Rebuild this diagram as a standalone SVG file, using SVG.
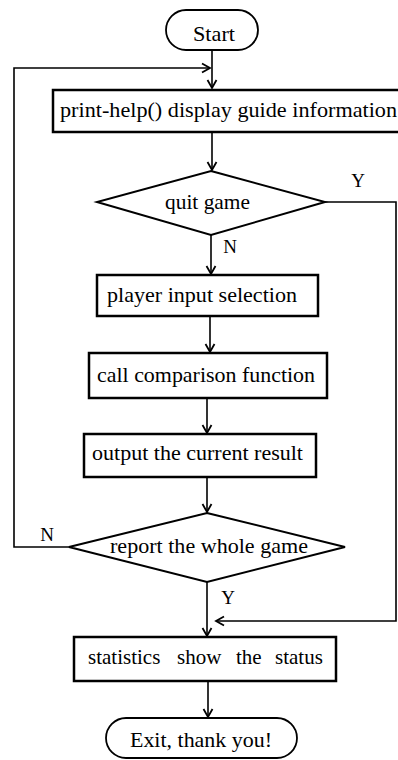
<svg xmlns="http://www.w3.org/2000/svg" width="398" height="760" viewBox="0 0 398 760">
<style>
.box{fill:#fff;stroke:#000;stroke-width:2.5}
.term{fill:#fff;stroke:#000;stroke-width:1.8}
.dia{fill:#fff;stroke:#000;stroke-width:2}
.ln{fill:none;stroke:#000;stroke-width:1.6}
.t{font-family:"Liberation Serif","Times New Roman",serif;font-size:21px;fill:#000;text-anchor:middle}
.lb{font-family:"Liberation Serif","Times New Roman",serif;font-size:19px;fill:#000;text-anchor:middle}
</style>
<defs>
<marker id="ah" markerWidth="12" markerHeight="12" refX="10" refY="6" orient="auto" markerUnits="userSpaceOnUse">
<path d="M2,1.5 L10,6 L2,10.5" fill="none" stroke="#000" stroke-width="1.8"/>
</marker>
</defs>
<g id="connectors">
<line class="ln" x1="212" y1="50" x2="212" y2="88" marker-end="url(#ah)"/>
<polyline class="ln" points="69,547 14,547 14,68 210,68" marker-end="url(#ah)"/>
<line class="ln" x1="212" y1="133" x2="212" y2="170" marker-end="url(#ah)"/>
<line class="ln" x1="211" y1="235" x2="211" y2="274" marker-end="url(#ah)"/>
<polyline class="ln" points="325,202 396,202 396,621 216,621" marker-end="url(#ah)"/>
<line class="ln" x1="210" y1="317" x2="210" y2="352" marker-end="url(#ah)"/>
<line class="ln" x1="207" y1="399" x2="207" y2="433" marker-end="url(#ah)"/>
<line class="ln" x1="207" y1="478" x2="207" y2="512" marker-end="url(#ah)"/>
<line class="ln" x1="207" y1="582" x2="207" y2="636" marker-end="url(#ah)"/>
<line class="ln" x1="208" y1="682" x2="208" y2="717" marker-end="url(#ah)"/>
<text class="lb" x="358" y="187">Y</text>
<text class="lb" x="230" y="253">N</text>
<text class="lb" x="47" y="541">N</text>
<text class="lb" x="228" y="604">Y</text>
</g>
<g id="start">
<rect class="term" x="166" y="10" width="92" height="40" rx="20" ry="20"/>
<text class="t" x="214" y="41" textLength="42" lengthAdjust="spacingAndGlyphs">Start</text>
</g>
<g id="print-help">
<rect class="box" x="53" y="90" width="360" height="42"/>
<text class="t" x="228.5" y="117" textLength="337" lengthAdjust="spacingAndGlyphs">print-help() display guide information</text>
</g>
<g id="quit-game">
<polygon class="dia" points="211,171 325,202 211,235 97,202"/>
<text class="t" x="207.5" y="209" textLength="85" lengthAdjust="spacingAndGlyphs">quit game</text>
</g>
<g id="player-input">
<rect class="box" x="97" y="275" width="221" height="41"/>
<text class="t" x="202" y="302" textLength="190" lengthAdjust="spacingAndGlyphs">player input selection</text>
</g>
<g id="call-comparison">
<rect class="box" x="89" y="353" width="238" height="45"/>
<text class="t" x="206" y="382" textLength="218" lengthAdjust="spacingAndGlyphs">call comparison function</text>
</g>
<g id="output-result">
<rect class="box" x="84" y="434" width="232" height="43"/>
<text class="t" x="197.5" y="460" textLength="211" lengthAdjust="spacingAndGlyphs">output the current result</text>
</g>
<g id="report-game">
<polygon class="dia" points="207,513 345,547 207,582 69,547"/>
<text class="t" x="209" y="553" textLength="198" lengthAdjust="spacingAndGlyphs">report the whole game</text>
</g>
<g id="statistics">
<rect class="box" x="74" y="637" width="262" height="44"/>
<text class="t" y="664" style="text-anchor:start"><tspan x="88">statistics</tspan> <tspan x="177">show</tspan> <tspan x="236">the</tspan> <tspan x="275">status</tspan></text>
</g>
<g id="exit">
<rect class="term" x="106" y="718" width="191" height="40" rx="20" ry="20"/>
<text class="t" x="201" y="747" textLength="142" lengthAdjust="spacingAndGlyphs">Exit, thank you!</text>
</g>
</svg>
